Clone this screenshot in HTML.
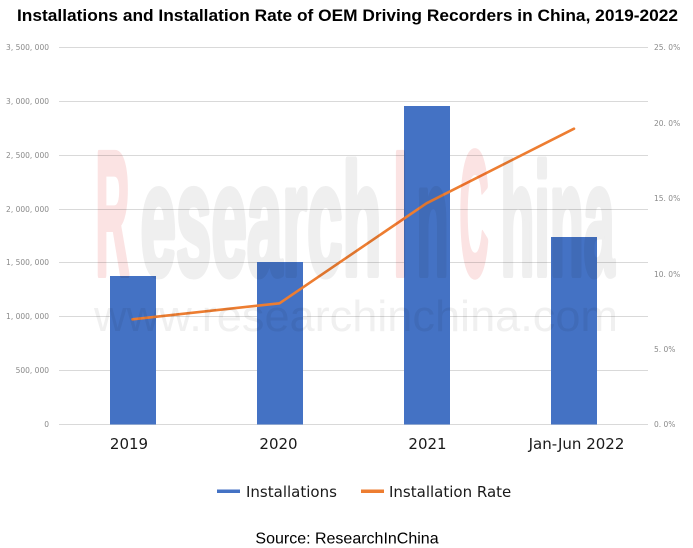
<!DOCTYPE html>
<html>
<head>
<meta charset="utf-8">
<style>
  html, body { margin: 0; padding: 0; background: #ffffff; }
  body { width: 693px; height: 548px; overflow: hidden; }
  svg { display: block; }
  .wm { mix-blend-mode: multiply; }
</style>
</head>
<body>
<svg width="693" height="548" viewBox="0 0 693 548" xmlns="http://www.w3.org/2000/svg">
  <rect x="0" y="0" width="693" height="548" fill="#ffffff"/>

  <!-- Title -->
  <text x="17" y="21" font-family="Liberation Sans, Arial, sans-serif" font-weight="bold" font-size="16.5" fill="#000" textLength="661" lengthAdjust="spacingAndGlyphs">Installations and Installation Rate of OEM Driving Recorders in China, 2019-2022</text>

  <!-- Gridlines -->
  <g stroke="#d9d9d9" stroke-width="1">
    <line x1="59" y1="47.5" x2="648" y2="47.5"/>
    <line x1="59" y1="101.5" x2="648" y2="101.5"/>
    <line x1="59" y1="155.5" x2="648" y2="155.5"/>
    <line x1="59" y1="209.5" x2="648" y2="209.5"/>
    <line x1="59" y1="262.5" x2="648" y2="262.5"/>
    <line x1="59" y1="316.5" x2="648" y2="316.5"/>
    <line x1="59" y1="370.5" x2="648" y2="370.5"/>
    <line x1="59" y1="424.5" x2="648" y2="424.5"/>
  </g>

  <!-- Left axis labels -->
  <g font-family="DejaVu Sans, Verdana, sans-serif" font-size="7.5" fill="#8a8a8a" text-anchor="end">
    <text x="49" y="50">3, 500, 000</text>
    <text x="49" y="104">3, 000, 000</text>
    <text x="49" y="158">2, 500, 000</text>
    <text x="49" y="212">2, 000, 000</text>
    <text x="49" y="265">1, 500, 000</text>
    <text x="49" y="319">1, 000, 000</text>
    <text x="49" y="373">500, 000</text>
    <text x="49" y="427">0</text>
  </g>

  <!-- Right axis labels -->
  <g font-family="DejaVu Sans, Verdana, sans-serif" font-size="7.5" fill="#8a8a8a" text-anchor="start">
    <text x="654" y="50">25. 0%</text>
    <text x="654" y="126">20. 0%</text>
    <text x="654" y="201">15. 0%</text>
    <text x="654" y="277">10. 0%</text>
    <text x="654" y="352">5. 0%</text>
    <text x="654" y="427">0. 0%</text>
  </g>

  <!-- Bars -->
  <g fill="#4472C4">
    <rect x="110" y="276" width="46" height="148.5"/>
    <rect x="257" y="262" width="46" height="162.5"/>
    <rect x="404" y="106" width="46" height="318.5"/>
    <rect x="551" y="237" width="46" height="187.5"/>
  </g>

  <!-- Line -->
  <polyline points="132.5,319.3 279.5,303.3 426.5,203.3 574,128.7" fill="none" stroke="#ED7D31" stroke-width="2.6" stroke-linejoin="round" stroke-linecap="round"/>

  <!-- Watermark (overlay, multiply) -->
  <g class="wm" font-family="Liberation Sans, Arial, sans-serif" font-weight="bold" stroke-width="7" stroke-linejoin="round">
    <text x="95.5" y="274.5" font-size="176" textLength="34" lengthAdjust="spacingAndGlyphs" fill="#fbe3e3" stroke="#fbe3e3">R</text>
    <text x="140.5" y="274.5" font-size="158" textLength="241" lengthAdjust="spacingAndGlyphs" fill="#efefef" stroke="#efefef">esearch</text>
    <text x="393.5" y="274.5" font-size="176" textLength="14" lengthAdjust="spacingAndGlyphs" fill="#fbe3e3" stroke="#fbe3e3">I</text>
    <text x="416.5" y="274.5" font-size="158" textLength="32" lengthAdjust="spacingAndGlyphs" fill="#efefef" stroke="#efefef">n</text>
    <text x="459.5" y="274.5" font-size="176" textLength="29" lengthAdjust="spacingAndGlyphs" fill="#fbe3e3" stroke="#fbe3e3">C</text>
    <text x="500.5" y="274.5" font-size="158" textLength="114" lengthAdjust="spacingAndGlyphs" fill="#efefef" stroke="#efefef">hina</text>
  </g>
  <text class="wm" x="94" y="331" font-family="Liberation Sans, Arial, sans-serif" font-size="44" textLength="524" lengthAdjust="spacingAndGlyphs" fill="#f0f0f0">www.researchinchina.com</text>

  <!-- X axis labels -->
  <g font-family="DejaVu Sans, Verdana, sans-serif" font-size="15" fill="#1a1a1a" text-anchor="middle">
    <text x="129" y="449">2019</text>
    <text x="278.5" y="449">2020</text>
    <text x="427.5" y="449">2021</text>
    <text x="576.5" y="449">Jan-Jun 2022</text>
  </g>

  <!-- Legend -->
  <rect x="217" y="489.5" width="23" height="3.5" fill="#4472C4"/>
  <text x="246" y="497" font-family="DejaVu Sans, Verdana, sans-serif" font-size="15" fill="#1a1a1a">Installations</text>
  <rect x="361" y="489.5" width="23" height="3.5" fill="#ED7D31"/>
  <text x="389" y="497" font-family="DejaVu Sans, Verdana, sans-serif" font-size="15" fill="#1a1a1a">Installation Rate</text>

  <!-- Source -->
  <text x="347" y="543.5" font-family="Liberation Sans, Arial, sans-serif" font-size="16" fill="#000" text-anchor="middle">Source: ResearchInChina</text>
</svg>
</body>
</html>
